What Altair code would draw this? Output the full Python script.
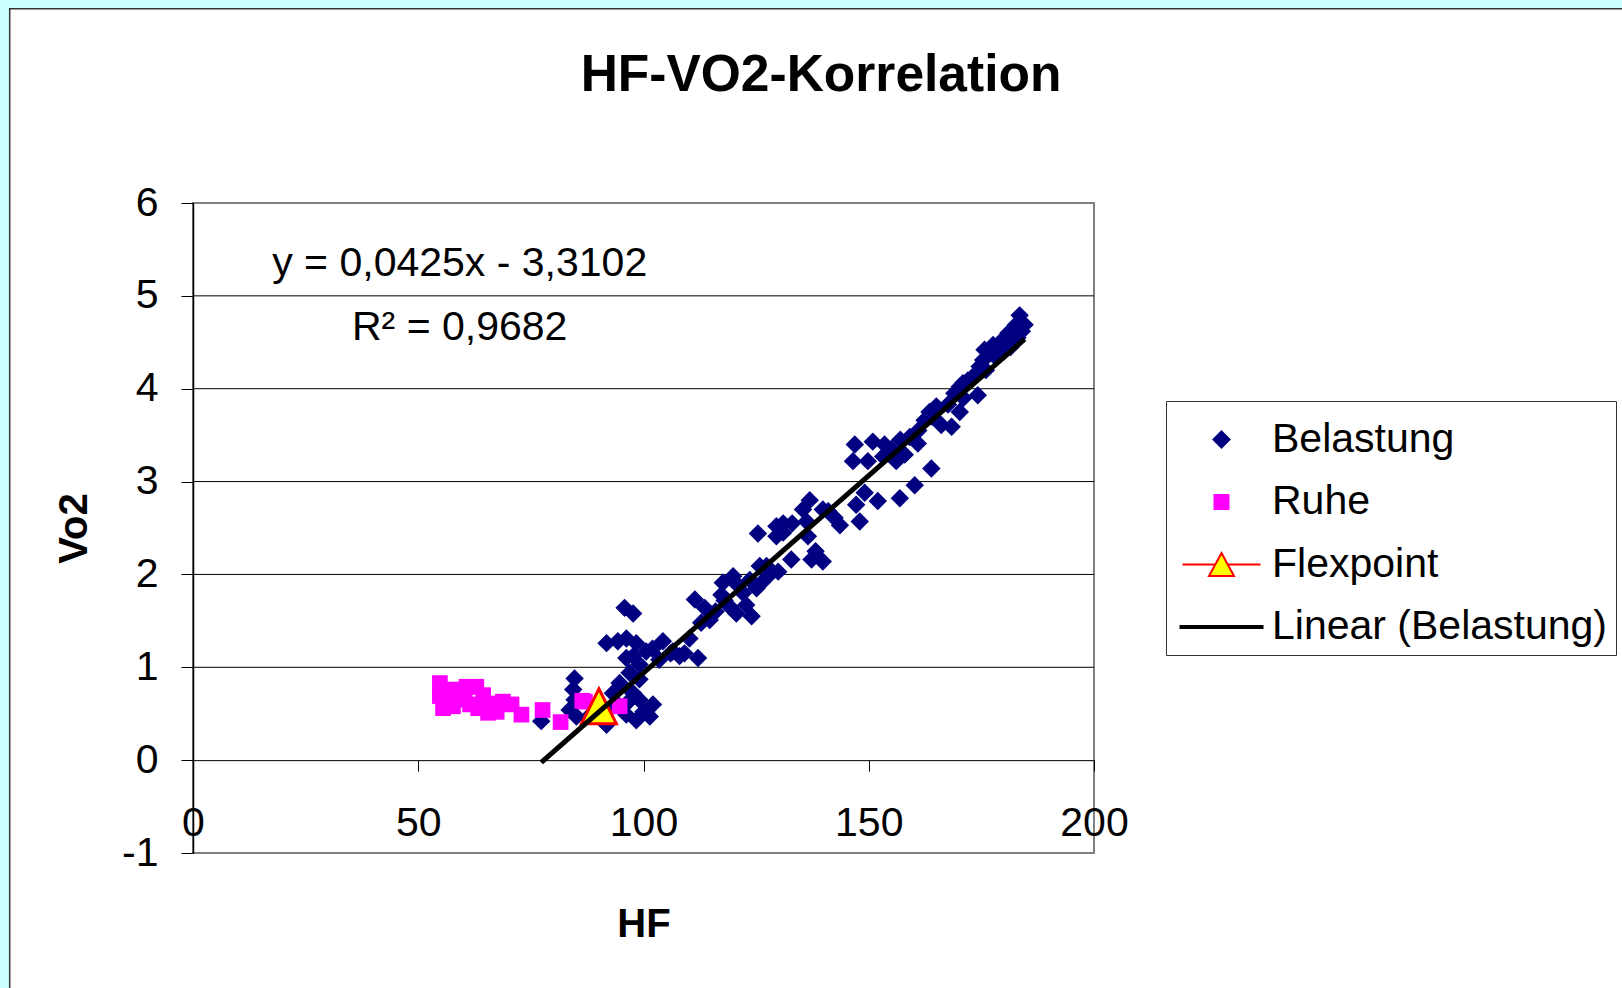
import altair as alt
import pandas as pd

# ---------------- data ----------------
title_text = "HF-VO2-Korrelation"
x_title = "HF"
y_title = "Vo2"
x_ticks = [0, 50, 100, 150, 200]
y_ticks = [-1, 0, 1, 2, 3, 4, 5, 6]
grid_values = [1, 2, 3, 4, 5]
series_names = ["Belastung", "Ruhe", "Flexpoint", "Linear (Belastung)"]

bel_x = [77.3, 84.7, 84.4, 84.7, 83.6, 85.1, 91.8, 93.2, 94.7, 96.9, 99.1, 97.7, 99.1, 102.1,
         101.4, 98.4, 96.2, 94.7, 96.5, 92.5, 88.5, 90.5, 100.0, 91.8, 94.3, 96.2, 98.4, 100.6,
         97.7, 96.2, 99.1, 104.3, 106.5, 95.8, 97.7, 102.0, 103.5, 106.0, 108.0,
         109.1, 112.1, 110.2, 111.4, 113.6, 114.7, 112.8, 116.0, 118.0, 121.0, 117.6, 119.9,
         117.3, 119.2, 120.6, 124.0, 122.8, 122.1, 123.6, 125.8, 127.3, 126.2, 125.1, 128.0,
         129.9, 132.8, 137.3, 139.8, 138.2, 125.4, 129.5, 131.0, 129.5, 131.0, 133.0, 135.4,
         136.9, 136.2, 136.5, 139.8, 141.0, 142.4, 143.6, 147.2, 149.1, 152.0, 148.0, 156.9,
         160.2, 146.9, 146.5, 150.9, 153.5, 149.8, 153.2, 155.0, 156.1, 157.0, 158.0, 159.1,
         160.9, 161.0, 163.9, 162.4, 163.5, 164.0, 165.0, 166.1, 167.6, 168.4, 169.0, 170.2,
         171.0, 170.9, 173.1, 174.2, 174.6, 175.7, 176.0, 177.6, 178.0, 179.8, 180.0, 181.5,
         182.7, 183.5, 184.6, 182.7, 181.0, 183.0, 184.0, 175.4, 172.0, 170.2]
bel_y = [0.42, 0.88, 0.76, 0.65, 0.54, 0.47, 0.38, 0.72, 0.83, 0.94, 0.87, 0.72, 0.65, 0.60,
         0.47, 0.43, 0.49, 0.58, 0.62, 0.55, 0.50, 0.45, 0.52, 1.26, 1.28, 1.31, 1.26, 1.17,
         1.12, 1.10, 1.03, 1.28, 1.17, 1.64, 1.58, 1.20, 1.08, 1.15, 1.12,
         1.15, 1.10, 1.31, 1.73, 1.64, 1.51, 1.48, 1.60, 1.72, 1.88, 1.91, 1.98,
         1.78, 1.65, 1.58, 1.55, 1.67, 1.80, 1.94, 2.09, 2.09, 1.91, 1.85, 2.00,
         2.03, 2.16, 2.16, 2.14, 2.25, 2.44, 2.52, 2.55, 2.41, 2.45, 2.55, 2.70,
         2.80, 2.57, 2.41, 2.70, 2.68, 2.61, 2.53, 2.75, 2.88, 2.79, 2.57, 2.82,
         2.96, 3.40, 3.22, 3.43, 3.40, 3.22, 3.27, 3.35, 3.22, 3.45, 3.29, 3.48,
         3.41, 3.55, 3.14, 3.66, 3.75, 3.70, 3.81, 3.61, 3.83, 3.59, 3.95, 3.75,
         3.90, 4.06, 4.13, 3.93, 4.24, 4.42, 4.20, 4.47, 4.35, 4.53, 4.40, 4.45,
         4.51, 4.79, 4.69, 4.69, 4.60, 4.55, 4.62, 4.31, 4.09, 4.02]

ruhe_x = [54.8, 54.8, 55.5, 57.7, 60.7, 62.9, 57.7, 60.3, 63.3, 66.6, 68.8, 70.7, 65.5, 67.4,
          72.9, 77.6, 81.6, 87.0, 94.7, 59.6, 64.4, 56.5, 61.5, 86.4]
ruhe_y = [0.83, 0.69, 0.56, 0.76, 0.79, 0.79, 0.58, 0.65, 0.56, 0.61, 0.63, 0.60, 0.51, 0.52,
          0.49, 0.54, 0.41, 0.63, 0.58, 0.72, 0.70, 0.62, 0.60, 0.64]

flex_x = [90.1]
flex_y = [0.58]

trend_slope = 0.0425
trend_intercept = -3.3102

eq_text = ["y = 0,0425x - 3,3102", "R² = 0,9682"]
eq_x = [59.2, 59.2]
eq_y = [5.34, 4.65]

# ---------------- layout ----------------
FONT = "Liberation Sans"
W, H = 901, 650
PAD_L, PAD_T = 193, 203
PAD_R = 1622 - PAD_L - W
PAD_B = 988 - PAD_T - H
X_DOM = [0, 200]
Y_DOM = [-1, 6]
zero_offset = -H * (0 - Y_DOM[0]) / (Y_DOM[1] - Y_DOM[0])

xs = alt.Scale(domain=X_DOM, nice=False, zero=False)
ys = alt.Scale(domain=Y_DOM, nice=False, zero=False)

x_axis = alt.Axis(values=x_ticks, title=x_title, offset=zero_offset, grid=False,
                  domainColor="black", domainWidth=1, tickColor="black", tickSize=11,
                  tickWidth=1, labelFont=FONT, labelFontSize=41, labelColor="black",
                  labelPadding=32, labelFlush=False, labelOverlap=False,
                  labelExpr="'' + datum.value",
                  titleFont=FONT, titleFontSize=40, titleFontWeight="bold", titleColor="black",
                  titleX=W / 2, titleY=164, titleBaseline="middle", titleAlign="center")
y_axis = alt.Axis(values=y_ticks, title=y_title, grid=False,
                  domainColor="black", domainWidth=1.5, tickColor="black", tickSize=12,
                  tickWidth=1, labelFont=FONT, labelFontSize=41, labelColor="black",
                  labelPadding=23, labelFlush=False, labelOverlap=False,
                  labelExpr="'' + datum.value",
                  titleFont=FONT, titleFontSize=40, titleFontWeight="bold", titleColor="black",
                  titleX=-119, titleY=H / 2, titleAngle=270, titleBaseline="middle",
                  titleAlign="center")

X = lambda f: alt.X(f, type="quantitative", scale=xs, axis=x_axis)
Y = lambda f: alt.Y(f, type="quantitative", scale=ys, axis=y_axis)

bel_df = pd.DataFrame({"hf": bel_x, "vo2": bel_y})
ruhe_df = pd.DataFrame({"hf": ruhe_x, "vo2": ruhe_y})
flex_df = pd.DataFrame({"hf": flex_x, "vo2": flex_y})
tx = [min(bel_x), max(bel_x)]
trend_df = pd.DataFrame({"hf": tx, "vo2": [trend_slope * v + trend_intercept for v in tx]})
grid_df = pd.DataFrame({"vo2": grid_values})
eq_df = pd.DataFrame({"hf": eq_x, "vo2": eq_y, "t": eq_text})
leg_df = pd.DataFrame({"series": series_names})

one = alt.Data(values=[{"k": 0}])

# outer frame decoration (cyan strips and border) in the padding area
cyan = "#CCFFFF"
strip_left = alt.Chart(one).mark_rect(color=cyan).encode(
    x=alt.value(-PAD_L), x2=alt.value(-PAD_L + 9), y=alt.value(-PAD_T), y2=alt.value(H + PAD_B))
strip_top = alt.Chart(one).mark_rect(color=cyan).encode(
    x=alt.value(-PAD_L), x2=alt.value(W + PAD_R), y=alt.value(-PAD_T), y2=alt.value(-PAD_T + 8))
border_v = alt.Chart(one).mark_rule(color="#333333", strokeWidth=1.5).encode(
    x=alt.value(-PAD_L + 9.7), y=alt.value(-PAD_T + 8), y2=alt.value(H + PAD_B))
border_h = alt.Chart(one).mark_rule(color="#333333", strokeWidth=1.5).encode(
    x=alt.value(-PAD_L + 9), x2=alt.value(W + PAD_R), y=alt.value(-PAD_T + 8.7))

grid = alt.Chart(grid_df).mark_rule(color="black", strokeWidth=1).encode(y=Y("vo2"))

diamond_path = "M0,-1L1,0L0,1L-1,0Z"
square_path = "M-1,-1H1V1H-1Z"

bel = alt.Chart(bel_df).mark_point(shape=diamond_path, filled=True, color="#000080",
                                   size=340, opacity=1).encode(x=X("hf"), y=Y("vo2"))
ruhe = alt.Chart(ruhe_df).mark_point(shape=square_path, filled=True, color="#FF00FF",
                                     size=246, opacity=1).encode(x=X("hf"), y=Y("vo2"))
flex = alt.Chart(flex_df).mark_point(shape="M0,-1L1,1L-1,1Z", filled=True, fill="#FFFF00",
                                     stroke="#FF0000", strokeWidth=3, size=1225,
                                     opacity=1).encode(x=X("hf"), y=Y("vo2"))
trend = alt.Chart(trend_df).mark_line(color="black", strokeWidth=5).encode(
    x=X("hf"), y=Y("vo2"))
eq = alt.Chart(eq_df).mark_text(font=FONT, fontSize=41, color="black", align="center",
                                baseline="middle").encode(x=X("hf"), y=Y("vo2"), text="t:N")

shape_range = [
    "M0,-0.8L0.8,0L0,0.8L-0.8,0Z",
    "M-0.7,-0.7H0.7V0.7H-0.7Z",
    "M-3.9,0H-0.6M0.6,0H3.9M0,-1.15L1.25,1.15L-1.25,1.15Z",
    "M-4.1,-0.1H4.1V0.1H-4.1Z",
]
fill_range = ["#000080", "#FF00FF", "#FFFF00", "black"]
stroke_range = ["#000080", "#FF00FF", "#FF0000", "black"]

legend = alt.Legend(orient="none", legendX=973, legendY=198, title=" ",
                    titleFontSize=8, titlePadding=2, titleColor="white",
                    labelFont=FONT, labelFontSize=41, labelColor="black", labelLimit=800,
                    symbolSize=400, symbolStrokeWidth=2, symbolOffset=27, labelOffset=30,
                    padding=8, rowPadding=20.5, strokeColor="#333333", fillColor="white",
                    symbolOpacity=1)

leg_layer = alt.Chart(leg_df).mark_point(filled=True, opacity=0, strokeWidth=2).encode(
    shape=alt.Shape("series:N", scale=alt.Scale(domain=series_names, range=shape_range),
                    legend=legend),
    fill=alt.Fill("series:N", scale=alt.Scale(domain=series_names, range=fill_range),
                  legend=legend),
    stroke=alt.Stroke("series:N", scale=alt.Scale(domain=series_names, range=stroke_range),
                      legend=legend),
)

chart = alt.layer(
    strip_left, strip_top, border_v, border_h, grid, bel, ruhe, flex, trend, eq, leg_layer
).properties(
    width=W, height=H,
    title=alt.Title(title_text, font=FONT, fontSize=51.5, fontWeight="bold", color="black",
                    anchor="middle", dx=177.5, offset=0, dy=101),
    autosize=alt.AutoSizeParams(type="none"),
    padding={"left": PAD_L, "top": PAD_T, "right": PAD_R, "bottom": PAD_B},
    background="white",
).configure_view(
    fill="#C0C0C0", stroke="#808080", strokeWidth=2
)

chart.save("out.html", embed_options={"renderer": "svg", "actions": False})
